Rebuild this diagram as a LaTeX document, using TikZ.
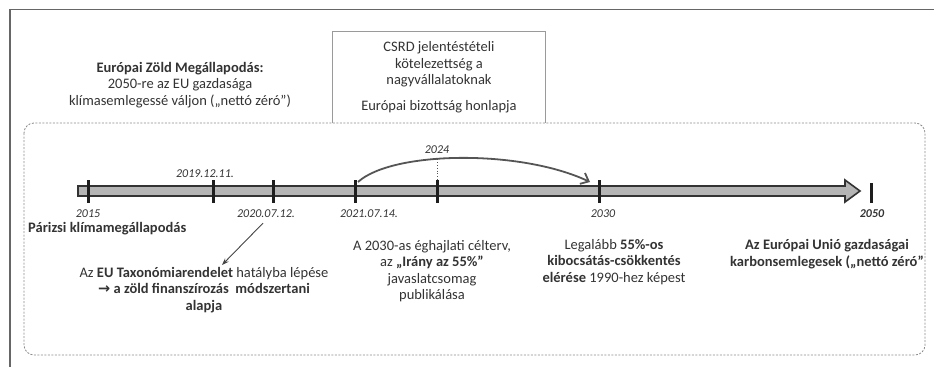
\documentclass[tikz,border=0pt]{standalone}
\usepackage{fontspec}
\setmainfont{Carlito}
\newfontfamily\symfont{DejaVu Sans}
\usetikzlibrary{arrows.meta,calc}
\definecolor{txt}{HTML}{333333}
\definecolor{framec}{HTML}{666666}
\definecolor{dashc}{HTML}{8a8a8a}
\definecolor{boxc}{HTML}{9a9a9a}
\definecolor{barfill}{HTML}{b5b5b5}
\definecolor{barline}{HTML}{333333}
\definecolor{tickc}{HTML}{1e1e1e}
\definecolor{arcc}{HTML}{555555}
\definecolor{linec}{HTML}{444444}
\begin{document}
\begin{tikzpicture}[x=1pt,y=-1pt,
  every node/.style={inner sep=0pt, text=txt},
  body/.style={font=\fontsize{14.5}{16.5}\selectfont, align=center},
  datelbl/.style={font=\fontsize{12}{14}\selectfont\itshape},
  tickmark/.style={line width=3pt, draw=tickc},
  connector/.style={draw=linec, line width=0.9pt, -{Stealth[length=7pt,width=5pt]}}]
\useasboundingbox (0,0) rectangle (934,367);
% outer frame lines
\draw[framec, line width=1.5pt] (934,9.5) -- (10,9.5) -- (10,367);
% dashed rounded box
\draw[dashc, line width=0.8pt, dash pattern=on 2pt off 1.5pt, rounded corners=10pt] (24,123) rectangle (925,355);
% top-left block
\node[body] (zold) at (180,85) {\textbf{Európai Zöld Megállapodás:}\\2050-re az EU gazdasága\\klímasemlegessé váljon („nettó zéró”)};
% CSRD box
\node[body, minimum width=212pt, minimum height=92pt, anchor=north] (csrd) at (439,31)
  {CSRD jelentéstételi\\kötelezettség a\\nagyvállalatoknak\\[9pt]Európai bizottság honlapja};
\draw[boxc, line width=0.8pt] (csrd.south west) -- (csrd.north west) -- (csrd.north east) -- (csrd.south east);
% timeline bar
\draw[fill=barfill, draw=barline, line width=1.6pt, line join=miter]
  (78,186) -- (845,186) -- (845,180) -- (860,191) -- (845,202) -- (845,196) -- (78,196) -- cycle;
% ticks
\foreach \n/\x in {t15/88, t19/213, t20/273, t21/355, t24/437, t30/599}{
  \coordinate (\n t) at (\x,180);
  \draw[tickmark] (\x,180) -- (\x,203);
}
\coordinate (t50t) at (871,183);
\draw[tickmark] (t50t) -- (871,203);
% date labels
\node[datelbl] (d2015) at (88,214) {2015};
\node[datelbl] (d2019) at (205,174) {2019.12.11.};
\node[datelbl] (d2020) at (266,214) {2020.07.12.};
\node[datelbl] (d2021) at (369,214) {2021.07.14.};
\node[datelbl] (d2024) at (437,150) {2024};
\node[datelbl] (d2030) at (603,214) {2030};
\node[datelbl, font=\fontsize{12}{14}\selectfont\itshape\bfseries] (d2050) at (872,214) {2050};
% curved arrow 2021 -> 2030
\draw[arcc, line width=1.8pt, -{Straight Barb[length=7pt,width=12pt]}]
  ($(t21t)+(3,2)$) .. controls (392,151) and (520,149) .. ($(t30t)+(-9,2)$) coordinate[pos=0.39] (arcmid);
\draw[arcc, dotted, line width=0.8pt] (arcmid -| t24t) -- (t24t);
% event texts
\node[body, anchor=west] (paris) at (28,229) {\textbf{Párizsi klímamegállapodás}};
\node[body] (tax) at (204,290) {Az \textbf{EU Taxonómiarendelet} hatályba lépése\\\textbf{{\symfont →} a zöld finanszírozás\ \ módszertani}\\\textbf{alapja}};
\node[body] (irany) at (432,271) {A 2030-as éghajlati célterv,\\az \textbf{„Irány az 55\%”}\\javaslatcsomag\\publikálása};
\node[body] (legalabb) at (614,262) {Legalább \textbf{55\%-os}\\\textbf{kibocsátás-csökkentés}\\\textbf{elérése} 1990-hez képest};
\node[body] (eu2050) at (827,254) {\textbf{Az Európai Unió gazdaságai}\\\textbf{karbonsemlegesek („nettó zéró”}};
% connector 2020 -> taxonomy
\draw[connector] ($(d2020.south)+(-3,5)$) -- ($(tax.north)+(18,-2)$);
\end{tikzpicture}
\end{document}
